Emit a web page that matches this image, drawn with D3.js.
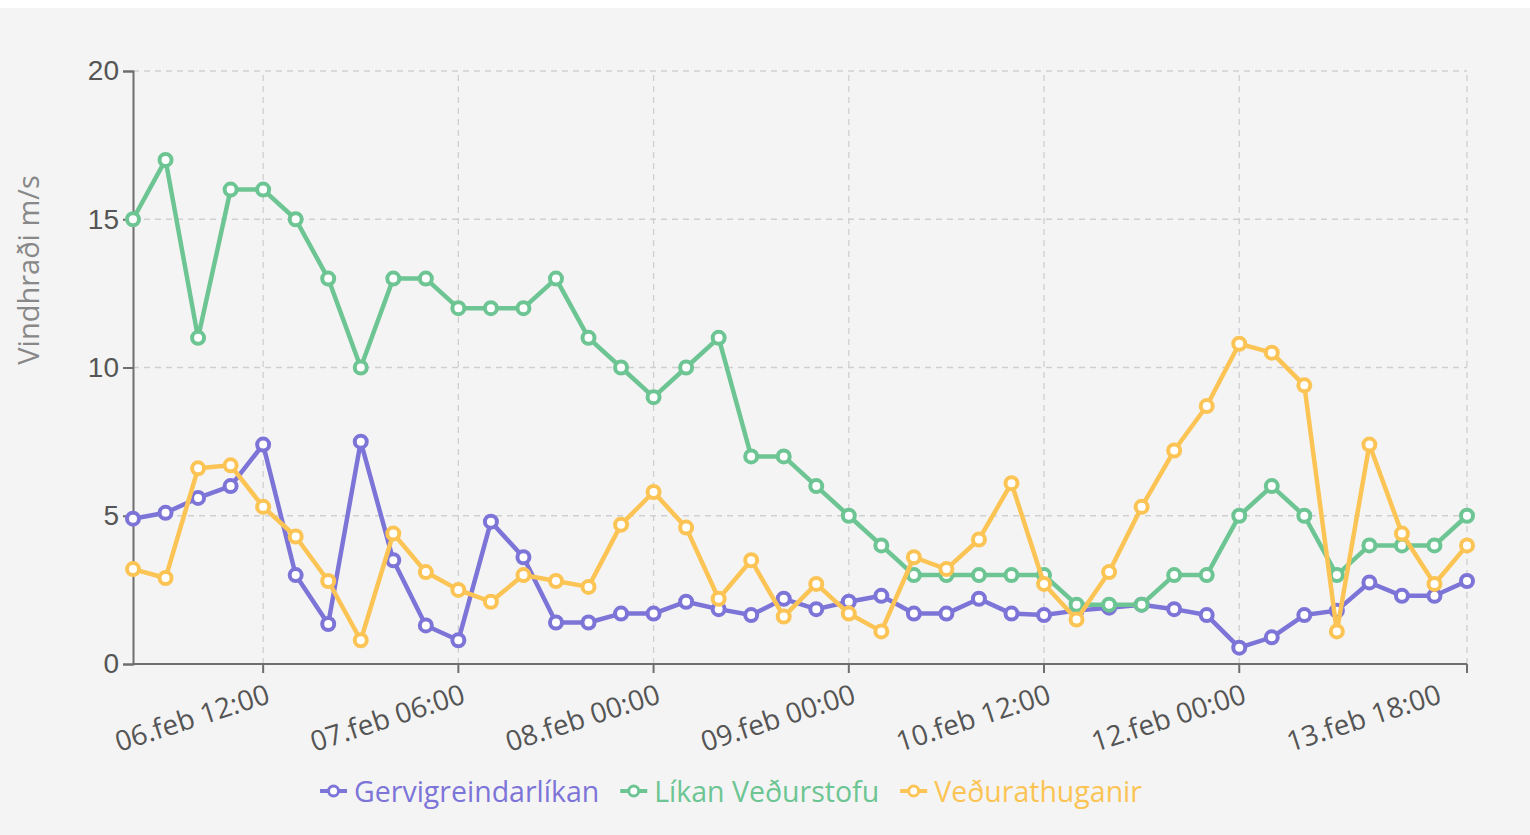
<!DOCTYPE html>
<html>
<head>
<meta charset="utf-8">
<script src="https://cdn.jsdelivr.net/npm/d3@7"></script>
<style>
  body { margin: 0; background: #f4f4f4; }
  svg { display: block; font-family: "Open Sans", "Noto Sans", sans-serif; }
</style>
</head>
<body>
<div id="chart"></div>
<script>
// data
const categories = [
  "06.feb 00:00","06.feb 03:00","06.feb 06:00","06.feb 09:00","06.feb 12:00","06.feb 15:00",
  "06.feb 18:00","06.feb 21:00","07.feb 00:00","07.feb 03:00","07.feb 06:00","07.feb 09:00",
  "07.feb 12:00","07.feb 15:00","07.feb 18:00","07.feb 21:00","08.feb 00:00","08.feb 04:00",
  "08.feb 08:00","08.feb 12:00","08.feb 16:00","08.feb 20:00","09.feb 00:00","09.feb 06:00",
  "09.feb 12:00","09.feb 18:00","10.feb 00:00","10.feb 06:00","10.feb 12:00","10.feb 18:00",
  "11.feb 00:00","11.feb 06:00","11.feb 12:00","11.feb 18:00","12.feb 00:00","12.feb 07:00",
  "12.feb 14:00","12.feb 21:00","13.feb 04:00","13.feb 11:00","13.feb 18:00","14.feb 01:00"
];
const gervigreind = [4.9,5.1,5.6,6.0,7.4,3.0,1.35,7.5,3.5,1.3,0.8,4.8,3.6,1.4,1.4,1.7,1.7,2.1,1.85,1.65,2.2,
  1.85,2.1,2.3,1.7,1.7,2.2,1.7,1.65,1.8,1.9,2.0,1.85,1.65,0.55,0.9,1.65,1.8,2.75,2.3,2.3,2.8];
const likanVedur = [15,17,11,16,16,15,13,10,13,13,12,12,12,13,11,10,9,10,11,7,7,
  6,5,4,3,3,3,3,3,2,2,2,3,3,5,6,5,3,4,4,4,5];
const athuganir = [3.2,2.9,6.6,6.7,5.3,4.3,2.8,0.8,4.4,3.1,2.5,2.1,3.0,2.8,2.6,4.7,5.8,4.6,2.2,3.5,1.6,
  2.7,1.7,1.1,3.6,3.2,4.2,6.1,2.7,1.5,3.1,5.3,7.2,8.7,10.8,10.5,9.4,1.1,7.4,4.4,2.7,4.0];
const seriesNames = ["Gervigreindarlíkan", "Líkan Veðurstofu", "Veðurathuganir"];
const seriesColors = ["#7d74d8", "#6cc592", "#fbc454"];
const yTicks = [0, 5, 10, 15, 20];
const yTitle = "Vindhraði m/s";

const width = 1530, height = 835;
const margin = {top: 71, right: 63, bottom: 171, left: 133};

const svg = d3.select("#chart").append("svg")
  .attr("width", width)
  .attr("height", height);

svg.append("rect").attr("width", width).attr("height", 8).attr("fill", "#ffffff");

const x = d3.scalePoint()
  .domain(categories)
  .range([margin.left, width - margin.right]);

const y = d3.scaleLinear()
  .domain([0, 20])
  .range([height - margin.bottom, margin.top]);

const labelIdx = categories.map((c, i) => i).filter(i => i % 6 === 4);
// ticks / vertical grid: at shown labels except last, plus axis end
const tickIdx = labelIdx.slice(0, -1).concat([categories.length - 1]);

// grid
svg.append("g")
  .selectAll("line")
  .data(yTicks.filter(d => d > 0))
  .join("line")
  .attr("x1", margin.left).attr("x2", width - margin.right)
  .attr("y1", d => y(d)).attr("y2", d => y(d))
  .attr("stroke", "#cfcfcf").attr("stroke-width", 1.3)
  .attr("stroke-dasharray", "6,5");

svg.append("g")
  .selectAll("line")
  .data(tickIdx)
  .join("line")
  .attr("x1", i => x(categories[i])).attr("x2", i => x(categories[i]))
  .attr("y1", y(0)).attr("y2", y(20))
  .attr("stroke", "#cfcfcf").attr("stroke-width", 1.3)
  .attr("stroke-dasharray", "6,5");

// y axis
const yAxis = svg.append("g")
  .attr("transform", "translate(" + margin.left + ",0)")
  .call(d3.axisLeft(y).tickValues(yTicks).tickSize(10).tickPadding(4));
yAxis.select(".domain").attr("stroke", "#6e6e6e").attr("stroke-width", 2);
yAxis.selectAll(".tick line").attr("stroke", "#6e6e6e").attr("stroke-width", 2);
yAxis.selectAll("text").attr("fill", "#555").attr("font-size", "28px");

// x axis
const xAxisG = svg.append("g");
xAxisG.append("line")
  .attr("x1", margin.left).attr("x2", width - margin.right)
  .attr("y1", y(0)).attr("y2", y(0))
  .attr("stroke", "#6e6e6e").attr("stroke-width", 2);
xAxisG.selectAll(".tk")
  .data(tickIdx)
  .join("line")
  .attr("class", "tk")
  .attr("x1", i => x(categories[i])).attr("x2", i => x(categories[i]))
  .attr("y1", y(0)).attr("y2", y(0) + 9)
  .attr("stroke", "#6e6e6e").attr("stroke-width", 2);
xAxisG.selectAll("text")
  .data(labelIdx)
  .join("text")
  .attr("transform", i => "translate(" + (x(categories[i]) + 5) + "," + (y(0) + 28) + ") rotate(-18)")
  .attr("text-anchor", "end")
  .attr("dominant-baseline", "central")
  .attr("fill", "#555")
  .attr("font-size", "28px")
  .text(i => categories[i]);

// y title
svg.append("text")
  .attr("transform", "translate(27,270) rotate(-90)")
  .attr("text-anchor", "middle")
  .attr("dominant-baseline", "central")
  .attr("fill", "#888")
  .attr("font-size", "29px")
  .text(yTitle);

// lines
const allSeries = [gervigreind, likanVedur, athuganir];
const line = d3.line()
  .x((d, i) => x(categories[i]))
  .y(d => y(d));

allSeries.forEach(function(vals, s) {
  const g = svg.append("g");
  g.append("path")
    .datum(vals)
    .attr("d", line)
    .attr("fill", "none")
    .attr("stroke", seriesColors[s])
    .attr("stroke-width", 4.5)
    .attr("stroke-linejoin", "round");
  g.selectAll("circle")
    .data(vals)
    .join("circle")
    .attr("cx", (d, i) => x(categories[i]))
    .attr("cy", d => y(d))
    .attr("r", 6)
    .attr("fill", "#ffffff")
    .attr("stroke", seriesColors[s])
    .attr("stroke-width", 4);
});

// legend
const legend = svg.append("g");
let lx = 0;
seriesNames.forEach(function(name, s) {
  const item = legend.append("g").attr("transform", "translate(" + lx + ",0)");
  item.append("line").attr("x1", 0).attr("x2", 27).attr("y1", 0).attr("y2", 0)
    .attr("stroke", seriesColors[s]).attr("stroke-width", 4);
  item.append("circle").attr("cx", 13.5).attr("cy", 0).attr("r", 5)
    .attr("fill", "#ffffff").attr("stroke", seriesColors[s]).attr("stroke-width", 3);
  const t = item.append("text")
    .attr("x", 34).attr("y", 0)
    .attr("dominant-baseline", "central")
    .attr("fill", seriesColors[s])
    .attr("font-size", "28.5px")
    .text(name);
  lx += 34 + t.node().getComputedTextLength() + 21;
});
lx -= 21;
legend.attr("transform", "translate(" + ((width - lx) / 2 - 34) + ",791)");
</script>
</body>
</html>
